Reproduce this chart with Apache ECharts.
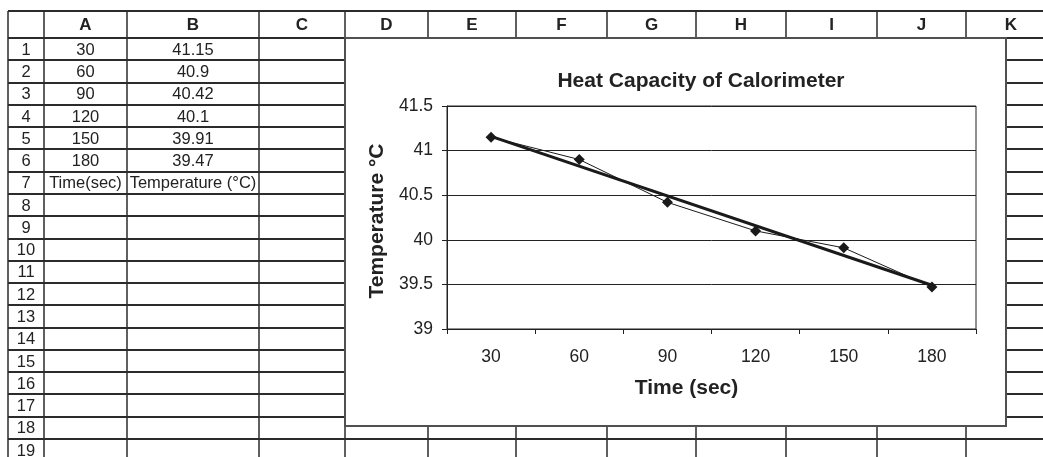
<!DOCTYPE html>
<html>
<head>
<meta charset="utf-8">
<script src="https://cdn.jsdelivr.net/npm/echarts@6/dist/echarts.min.js"></script>
<style>
html,body{margin:0;padding:0;background:#fff;}
#chart{width:1043px;height:457px;}
</style>
</head>
<body>
<div id="chart"></div>
<script>
// ---- data ----
const times = ['30', '60', '90', '120', '150', '180'];
const temps = [41.15, 40.9, 40.42, 40.1, 39.91, 39.47];
// linear trendline endpoints
const trendStart = 41.16;
const trendEnd = 39.49;
const columnLetters = ['A', 'B', 'C', 'D', 'E', 'F', 'G', 'H', 'I', 'J', 'K'];
const rowCount = 19;
const labelRow = ['Time(sec)', 'Temperature (\u00B0C)'];
const chartTitle = 'Heat Capacity of Calorimeter';
const xName = 'Time (sec)';
const yName = 'Temperature \u00B0C';

// ---- layout (sheet) ----
const FONT = '"Liberation Sans", Arial, Helvetica, sans-serif';
const INK = '#222';
const colX = [8, 44, 127, 259, 345, 428, 516, 607, 696, 786, 877, 966, 1056];
const headTop = 11, headBottom = 38, rowH = 22.28;
const W = 1043, H = 457;

const g = [];
// vertical lines
colX.forEach(function (x) {
  g.push({type: 'line', z: 0, silent: true,
    shape: {x1: x, y1: headTop, x2: x, y2: H},
    style: {stroke: '#2b2b2b', lineWidth: 1.5}});
});
// horizontal lines
const hy = [headTop, headBottom];
for (let i = 1; i < rowCount; i++) hy.push(Math.round(headBottom + rowH * i));
hy.forEach(function (y) {
  g.push({type: 'line', z: 0, silent: true,
    shape: {x1: colX[0], y1: y, x2: W, y2: y},
    style: {stroke: '#2b2b2b', lineWidth: 2}});
});
// column headers
columnLetters.forEach(function (c, i) {
  g.push({type: 'text', z: 1, silent: true,
    style: {text: c, x: (colX[i + 1] + colX[i + 2]) / 2, y: (headTop + headBottom) / 2 + 1,
      align: 'center', verticalAlign: 'middle', textAlign: 'center', textVerticalAlign: 'middle',
      font: 'bold 17px ' + FONT, fill: INK}});
});
// row numbers
for (let r = 1; r <= rowCount; r++) {
  const cy = headBottom + rowH * (r - 0.5) + 1;
  g.push({type: 'text', z: 1, silent: true,
    style: {text: String(r), x: (colX[0] + colX[1]) / 2, y: cy,
      align: 'center', verticalAlign: 'middle', textAlign: 'center', textVerticalAlign: 'middle',
      font: '16.5px ' + FONT, fill: INK}});
}
// data cells
function cell(col, row, text) {
  g.push({type: 'text', z: 1, silent: true,
    style: {text: text, x: (colX[col] + colX[col + 1]) / 2, y: headBottom + rowH * (row - 0.5) + 1,
      align: 'center', verticalAlign: 'middle', textAlign: 'center', textVerticalAlign: 'middle',
      font: '16.5px ' + FONT, fill: INK}});
}
times.forEach(function (t, i) {
  cell(1, i + 1, t);
  cell(2, i + 1, String(temps[i]));
});
cell(1, 7, labelRow[0]);
cell(2, 7, labelRow[1]);
// chart object box
g.push({type: 'rect', z: 2, silent: true,
  shape: {x: 345, y: 38, width: 661, height: 388},
  style: {fill: '#fff', stroke: '#505050', lineWidth: 2}});

const trend = times.map(function (t, i) {
  if (i === 0) return trendStart;
  if (i === times.length - 1) return trendEnd;
  return null;
});

const chart = echarts.init(document.getElementById('chart'));
chart.setOption({
  animation: false,
  backgroundColor: '#fff',
  textStyle: {fontFamily: FONT},
  graphic: {elements: g},
  title: {
    text: chartTitle, left: 696, top: 66, textAlign: 'center', z: 10,
    textStyle: {fontSize: 21, fontWeight: 'bold', color: INK, fontFamily: FONT}
  },
  grid: {
    left: 447, top: 106, right: W - 976, bottom: H - 329, z: 5,
    show: true, borderColor: '#222', borderWidth: 1, backgroundColor: 'transparent'
  },
  xAxis: {
    type: 'category', data: times, boundaryGap: true, z: 5,
    name: xName, nameLocation: 'middle', nameGap: 49,
    nameTextStyle: {fontSize: 21, fontWeight: 'bold', color: INK, fontFamily: FONT, padding: [0, 50, 0, 0]},
    axisLine: {lineStyle: {color: '#222', width: 1}},
    axisTick: {show: true, alignWithLabel: false, length: 5, lineStyle: {color: '#222'}},
    axisLabel: {fontSize: 17.5, color: INK, margin: 19, fontFamily: FONT},
    splitLine: {show: false}
  },
  yAxis: {
    type: 'value', min: 39, max: 41.5, interval: 0.5, z: 5,
    name: yName, nameLocation: 'middle', nameGap: 54,
    nameTextStyle: {fontSize: 21, fontWeight: 'bold', color: INK, fontFamily: FONT, padding: [0, 7, 0, 0]},
    axisLine: {show: true, lineStyle: {color: '#222', width: 1}},
    axisTick: {show: true, length: 5, lineStyle: {color: '#222'}},
    axisLabel: {fontSize: 17.5, color: INK, margin: 14, fontFamily: FONT},
    splitLine: {show: true, lineStyle: {color: '#222', width: 1}}
  },
  series: [
    {
      name: 'Trend', type: 'line', data: trend, connectNulls: true, z: 6,
      showSymbol: false, symbol: 'none', silent: true,
      lineStyle: {color: '#1a1a1a', width: 3}
    },
    {
      name: 'Temperature', type: 'line', data: temps, z: 7,
      symbol: 'diamond', symbolSize: 11,
      itemStyle: {color: '#1a1a1a'},
      lineStyle: {color: '#1a1a1a', width: 1}
    }
  ]
});
</script>
</body>
</html>
